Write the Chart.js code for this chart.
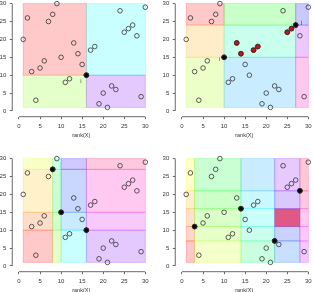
<!DOCTYPE html>
<html>
<head>
<meta charset="utf-8">
<script src="https://cdn.jsdelivr.net/npm/chart.js@4.4.1/dist/chart.umd.min.js"></script>
<style>
  html, body { margin: 0; padding: 0; background: #fff; overflow: hidden; width: 314px; height: 292px; }
  .panel { position: absolute; width: 163px; height: 155px; }
</style>
</head>
<body>
<div class="panel" style="left:0;top:-9px"><canvas id="c1" width="163" height="155"></canvas></div>
<div class="panel" style="left:163px;top:-9px"><canvas id="c2" width="163" height="155"></canvas></div>
<div class="panel" style="left:0;top:146px"><canvas id="c3" width="163" height="155"></canvas></div>
<div class="panel" style="left:163px;top:146px"><canvas id="c4" width="163" height="155"></canvas></div>
<script>
const rankX = [1, 2, 3, 4, 5, 6, 7, 8, 9, 10, 11, 12, 13, 14, 15, 16, 17, 18, 19, 20, 21, 22, 23, 24, 25, 26, 27, 28, 29, 30];
const rankY = [20, 26, 11, 3, 12, 14, 25, 27, 30, 15, 8, 9, 19, 16, 13, 10, 17, 18, 2, 5, 1, 7, 6, 28, 22, 23, 24, 21, 4, 29];
const axisTicks = [0, 5, 10, 15, 20, 25, 30];

// x positions of the split points in each panel
const splits1 = [16];
const splits2 = [10, 27];
const splits3 = [8, 10, 16];
const splits4 = [3, 14, 22, 28];

const labels1 = [{ text: "i", x: 14.7, y: 8.4 }];
const labels2 = [{ text: "i", x: 8.9, y: 14.3 }, { text: "j", x: 28.4, y: 24.9 }];
const highlight4 = [22, 28, 11, 16];

function hueRGB(h) {
  const f = n => {
    const k = (n + h / 60) % 6;
    return Math.round(255 * (1 - Math.max(0, Math.min(k, 4 - k, 1))));
  };
  return [f(5), f(3), f(1)];
}

function buildCells(splits, bottomUp) {
  const xs = [1, ...splits, 30];
  const ys = [1, ...splits.map(x => rankY[x - 1]).sort((a, b) => a - b), 30];
  const n = (xs.length - 1) * (ys.length - 1);
  const cells = [];
  let k = 0;
  for (let c = 0; c < xs.length - 1; c++) {
    for (let r = 0; r < ys.length - 1; r++) {
      const row = bottomUp ? r : ys.length - 2 - r;
      cells.push({ x0: xs[c], x1: xs[c + 1], y0: ys[row], y1: ys[row + 1], rgb: hueRGB(k / n * 360) });
      k++;
    }
  }
  return cells;
}

function makePanel(id, splits, bottomUp, labels, highlight, redCell) {
  const cells = buildCells(splits, bottomUp);
  const open = rankX.map((x, i) => ({ x: x, y: rankY[i] }));
  const black = splits.map(x => ({ x: x, y: rankY[x - 1] }));
  let red = [];
  if (redCell) {
    const ys = splits.map(x => rankY[x - 1]).sort((a, b) => a - b);
    red = open.filter(p => p.x > splits[0] && p.x < splits[1] && p.y > ys[0] && p.y < ys[1]);
  }

  const regions = {
    id: "regions",
    beforeDatasetsDraw(chart) {
      const { ctx, scales: { x, y } } = chart;
      ctx.save();
      ctx.lineWidth = 1;
      cells.forEach(c => {
        const l = x.getPixelForValue(c.x0), r = x.getPixelForValue(c.x1);
        const t = y.getPixelForValue(c.y1), b = y.getPixelForValue(c.y0);
        ctx.fillStyle = "rgba(" + c.rgb.join(",") + ",0.21)";
        ctx.fillRect(l, t, r - l, b - t);
        ctx.strokeStyle = "rgba(" + c.rgb.join(",") + ",0.22)";
        ctx.strokeRect(l, t, r - l, b - t);
      });
      if (highlight) {
        const l = x.getPixelForValue(highlight[0]), r = x.getPixelForValue(highlight[1]);
        const t = y.getPixelForValue(highlight[3]), b = y.getPixelForValue(highlight[2]);
        ctx.fillStyle = "rgba(235,20,60,0.62)";
        ctx.fillRect(l, t, r - l, b - t);
      }
      // R style axis lines, from first to last tick only
      ctx.strokeStyle = "#444";
      ctx.lineWidth = 0.8;
      ctx.beginPath();
      ctx.moveTo(x.getPixelForValue(0), chart.chartArea.bottom);
      ctx.lineTo(x.getPixelForValue(30), chart.chartArea.bottom);
      ctx.moveTo(chart.chartArea.left, y.getPixelForValue(0));
      ctx.lineTo(chart.chartArea.left, y.getPixelForValue(30));
      ctx.stroke();
      ctx.fillStyle = "#444";
      ctx.font = "6px 'Liberation Sans'";
      ctx.textAlign = "center";
      ctx.textBaseline = "middle";
      (labels || []).forEach(lb => {
        ctx.fillText(lb.text, x.getPixelForValue(lb.x), y.getPixelForValue(lb.y));
      });
      ctx.restore();
    }
  };

  const tickFont = { family: "'Liberation Sans', Arial, sans-serif", size: 6 };
  const setTicks = s => { s.ticks = axisTicks.map(v => ({ value: v })); };

  return new Chart(document.getElementById(id), {
    type: "scatter",
    data: {
      datasets: [
        {
          data: open,
          backgroundColor: "rgba(0,0,0,0)",
          borderColor: "#333",
          borderWidth: 0.8,
          pointRadius: 2.3,
        },
        {
          data: red,
          backgroundColor: "#c81414",
          borderColor: "#6a0000",
          borderWidth: 0.8,
          pointRadius: 2.4,
        },
        {
          data: black,
          backgroundColor: "#000",
          borderColor: "#000",
          borderWidth: 0.8,
          pointRadius: 2.4,
        },
      ],
    },
    options: {
      responsive: false,
      animation: false,
      events: [],
      devicePixelRatio: 1,
      layout: { padding: { left: 0, top: 8.45, right: 12.8, bottom: 0 } },
      plugins: {
        legend: { display: false },
        tooltip: { enabled: false },
      },
      scales: {
        x: {
          type: "linear",
          min: -1.6,
          max: 31.16,
          afterBuildTicks: setTicks,
          afterFit: s => { s.height = 29.3; },
          border: { display: false },
          grid: { drawOnChartArea: false, drawTicks: true, tickLength: 2.5, color: "#444", lineWidth: 0.8 },
          ticks: { font: tickFont, color: "#333", padding: 4, maxRotation: 0, autoSkip: false },
          title: {
            display: true,
            text: "rank(X)",
            font: { family: "'Liberation Sans', Arial, sans-serif", size: 5.5 },
            color: "#333",
            padding: { top: 0, bottom: 7.7 },
          },
        },
        y: {
          type: "linear",
          min: -1.6,
          max: 31.16,
          afterBuildTicks: setTicks,
          afterFit: s => { s.width = 12.26; },
          border: { display: false },
          grid: { drawOnChartArea: false, drawTicks: true, tickLength: 2.5, color: "#444", lineWidth: 0.8 },
          ticks: { font: tickFont, color: "#333", padding: 3.5, autoSkip: false },
        },
      },
    },
    plugins: [regions],
  });
}

makePanel("c1", splits1, false, labels1, null, false);
makePanel("c2", splits2, false, labels2, null, true);
makePanel("c3", splits3, true, null, null, false);
makePanel("c4", splits4, true, null, highlight4, false);
</script>
</body>
</html>
